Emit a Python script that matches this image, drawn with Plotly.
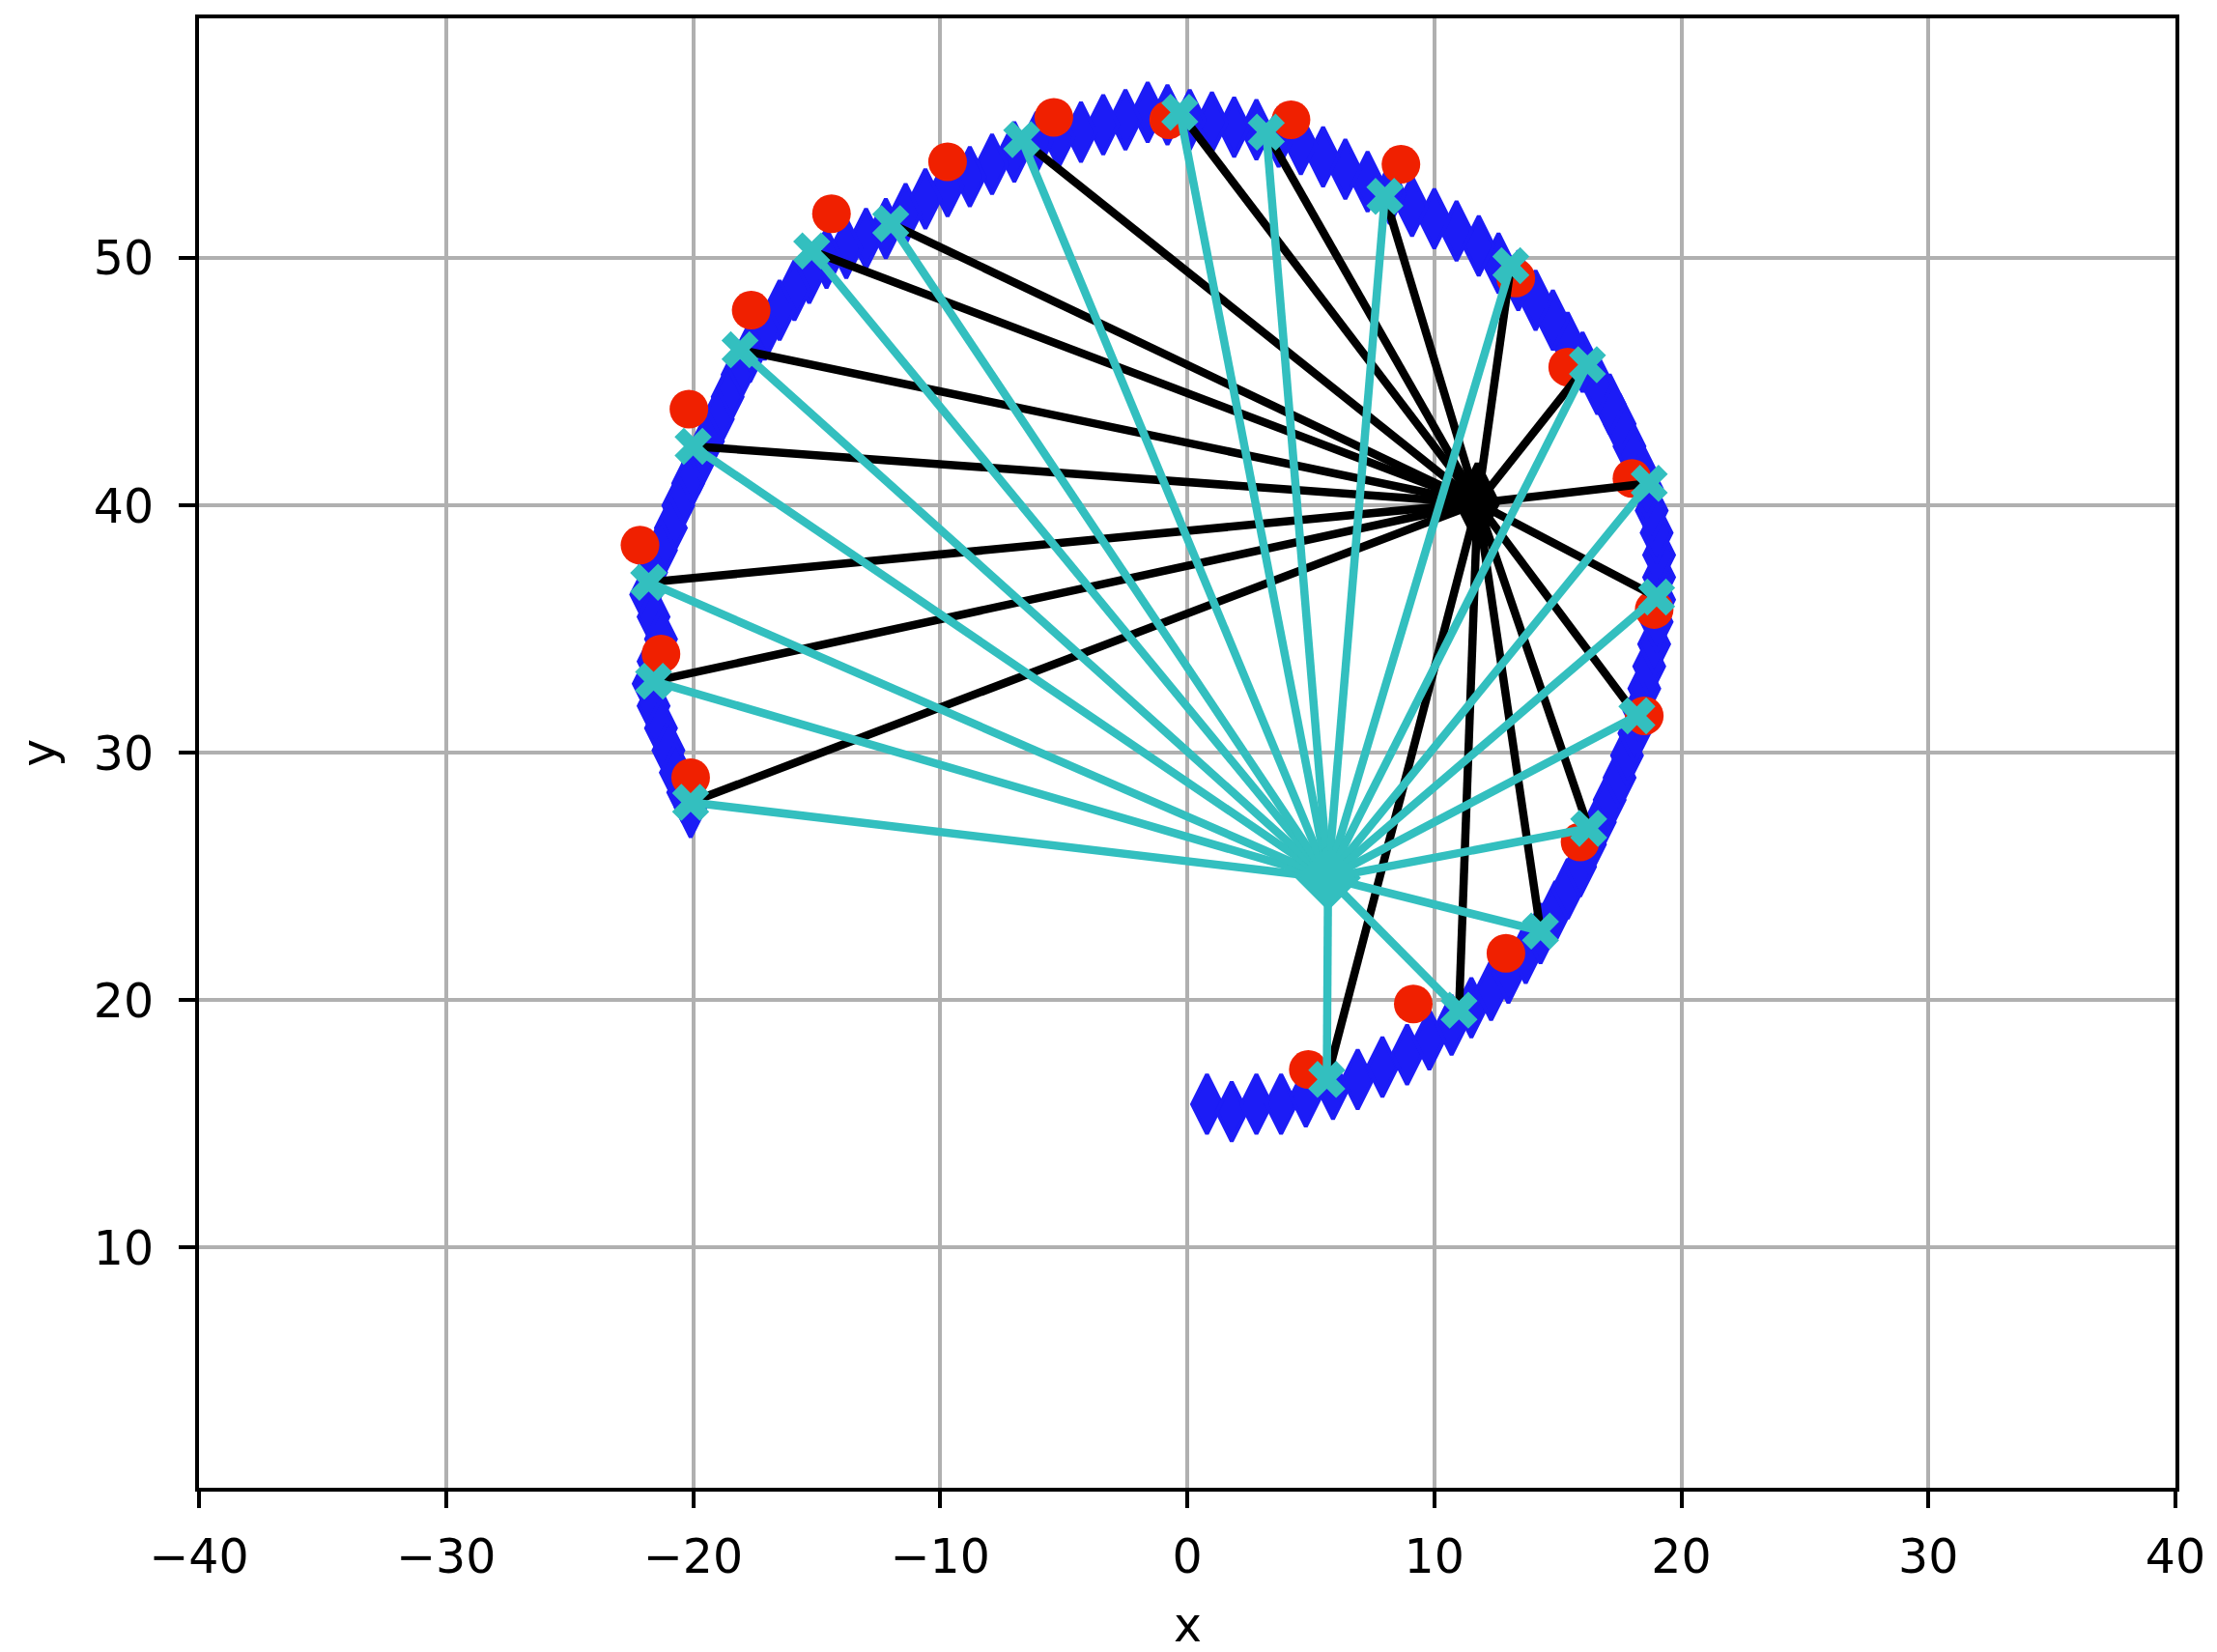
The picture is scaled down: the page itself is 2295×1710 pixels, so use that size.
import plotly.graph_objects as go

# Robot trajectory (thin blue diamonds)
path_x = [0.8, 1.8, 2.8, 3.8, 4.8, 5.9, 6.9, 7.9, 8.9, 9.8, 10.7, 11.5, 12.3, 13.0, 13.7,
          14.3, 14.9, 15.4, 15.9, 16.3, 16.7, 17.1, 17.5, 17.8, 18.1, 18.3, 18.5, 18.7, 18.9,
          19.0, 19.1, 19.1, 19.1, 19.0, 18.8, 18.6, 18.3, 17.9, 17.5, 17.1, 16.6, 16.0, 15.4,
          14.8, 14.1, 13.4, 12.6, 11.8, 10.9, 10.0, 9.1, 8.2, 7.3, 6.4, 5.5, 4.6, 3.7, 2.8,
          1.9, 1.0, 0.1, -0.8, -1.6, -2.5, -3.4, -4.3, -5.2, -6.1, -7.0, -7.9, -8.8, -9.7,
          -10.6, -11.4, -12.2, -13.0, -13.8, -14.6, -15.3, -15.9, -16.5, -17.1, -17.7, -18.2,
          -18.6, -19.0, -19.4, -19.8, -20.2, -20.6, -20.9, -21.3, -21.7, -21.9, -21.6, -21.3,
          -21.6, -21.8, -21.6, -21.3, -21.0, -20.7, -20.4, -20.1]
path_y = [15.8, 15.5, 15.8, 15.8, 16.1, 16.4, 16.8, 17.3, 17.8, 18.4, 19.0, 19.7, 20.4, 21.1,
          21.9, 22.7, 23.6, 24.5, 25.4, 26.3, 27.2, 28.1, 29.0, 29.9, 30.8, 31.7, 32.6, 33.5,
          34.4, 35.3, 36.2, 37.1, 38.0, 38.9, 39.8, 40.7, 41.5, 42.4, 43.3, 44.1, 44.9, 45.8,
          46.6, 47.5, 48.3, 49.1, 49.8, 50.5, 51.1, 51.6, 52.1, 52.6, 53.1, 53.6, 54.1, 54.6,
          54.9, 55.2, 55.3, 55.5, 55.6, 55.8, 55.9, 55.6, 55.4, 55.1, 54.9, 54.7, 54.3, 53.8,
          53.3, 52.9, 52.4, 51.8, 51.2, 50.8, 50.4, 50.0, 49.4, 48.7, 47.9, 47.1, 46.2, 45.3,
          44.4, 43.5, 42.6, 41.7, 40.9, 40.0, 39.1, 38.2, 37.3, 36.4, 35.5, 34.6, 33.7, 32.8,
          31.9, 31.0, 30.1, 29.2, 28.4, 27.8]

# True landmarks (red circles)
true_lm_x = [-20.1, -21.3, -22.15, -20.17, -17.65, -14.4, -9.7, -5.4, -0.75, 4.2,
             8.65, 13.3, 15.4, 18.0, 18.9, 18.5, 15.9, 12.9, 9.15, 4.9]
true_lm_y = [29.0, 34.0, 38.4, 43.9, 47.9, 51.8, 53.9, 55.7, 55.6, 55.6,
             53.8, 49.2, 45.6, 41.1, 35.8, 31.5, 26.4, 21.9, 19.85, 17.2]

# Estimated landmarks (cyan X)
est_lm_x = [-20.1, -21.6, -21.8, -20.0, -18.1, -15.2, -12.0, -6.7, -0.3, 3.2,
            8.0, 13.1, 16.2, 18.7, 19.0, 18.2, 16.25, 14.3, 11.0, 5.65]
est_lm_y = [28.0, 32.9, 36.9, 42.4, 46.3, 50.3, 51.4, 54.8, 55.9, 55.1,
            52.5, 49.7, 45.7, 40.9, 36.3, 31.5, 26.95, 22.8, 19.6, 16.8]

# Observation origins
black_pose = [11.75, 40.1]
cyan_pose = [5.7, 24.95]

BLUE = "#1c1cf6"
RED = "#f02000"
CYAN = "#33bfbf"
BLACK = "#000000"


def rays(origin, xs, ys):
    lx, ly = [], []
    for x, y in zip(xs, ys):
        lx += [origin[0], x, None]
        ly += [origin[1], y, None]
    return lx, ly


fig = go.Figure()

fig.add_trace(go.Scatter(
    x=path_x, y=path_y, mode="markers",
    marker=dict(symbol="diamond-tall", size=44, color=BLUE,
                line=dict(color=BLUE, width=4)),
    showlegend=False, hoverinfo="skip"))

fig.add_trace(go.Scatter(
    x=true_lm_x, y=true_lm_y, mode="markers",
    marker=dict(symbol="circle", size=40, color=RED, line=dict(width=0)),
    showlegend=False, hoverinfo="skip"))

bx, by = rays(black_pose, est_lm_x, est_lm_y)
fig.add_trace(go.Scatter(x=bx, y=by, mode="lines",
                         line=dict(color=BLACK, width=8.5),
                         showlegend=False, hoverinfo="skip"))
fig.add_trace(go.Scatter(
    x=[black_pose[0]], y=[black_pose[1]], mode="markers",
    marker=dict(symbol="diamond-tall", size=58, color=BLACK, line=dict(color=BLACK, width=6)),
    showlegend=False, hoverinfo="skip"))

cx, cy = rays(cyan_pose, est_lm_x, est_lm_y)
fig.add_trace(go.Scatter(x=cx, y=cy, mode="lines",
                         line=dict(color=CYAN, width=8.5),
                         showlegend=False, hoverinfo="skip"))
fig.add_trace(go.Scatter(
    x=[cyan_pose[0]], y=[cyan_pose[1]], mode="markers",
    marker=dict(symbol="diamond", size=48, color=CYAN, line=dict(color=CYAN, width=4)),
    showlegend=False, hoverinfo="skip"))

fig.add_trace(go.Scatter(
    x=est_lm_x, y=est_lm_y, mode="markers",
    marker=dict(symbol="x", size=34, color=CYAN, line=dict(width=0)),
    showlegend=False, hoverinfo="skip"))

axis_common = dict(
    showgrid=True, gridcolor="#b0b0b0", gridwidth=3.5,
    zeroline=False,
    showline=True, linecolor="black", linewidth=4, mirror=True,
    ticks="outside", ticklen=17, tickwidth=4, tickcolor="black",
    tickfont=dict(family="DejaVu Sans", size=49, color="black"),
)

fig.update_layout(
    width=2295, height=1710, autosize=False,
    margin=dict(l=206, r=41, t=19, b=170, pad=0),
    paper_bgcolor="white", plot_bgcolor="white",
    font=dict(family="DejaVu Sans", size=49, color="black"),
    xaxis=dict(range=[-40, 40], tickvals=[-40, -30, -20, -10, 0, 10, 20, 30, 40],
               ticklabelstandoff=8, **axis_common),
    yaxis=dict(range=[0.29, 59.7], tickvals=[10, 20, 30, 40, 50],
               ticklabelstandoff=16, **axis_common),
    annotations=[
        dict(text="x", xref="paper", yref="paper", x=0.5, y=-0.094,
             showarrow=False, font=dict(family="DejaVu Sans", size=49, color="black"),
             xanchor="center", yanchor="middle"),
        dict(text="y", xref="paper", yref="paper", x=-0.081, y=0.5, textangle=-90,
             showarrow=False, font=dict(family="DejaVu Sans", size=49, color="black"),
             xanchor="center", yanchor="middle"),
    ],
)

fig.write_html("out.html", config={"displayModeBar": False},
               post_script="document.body.style.margin='0px';document.body.style.overflow='hidden';")
